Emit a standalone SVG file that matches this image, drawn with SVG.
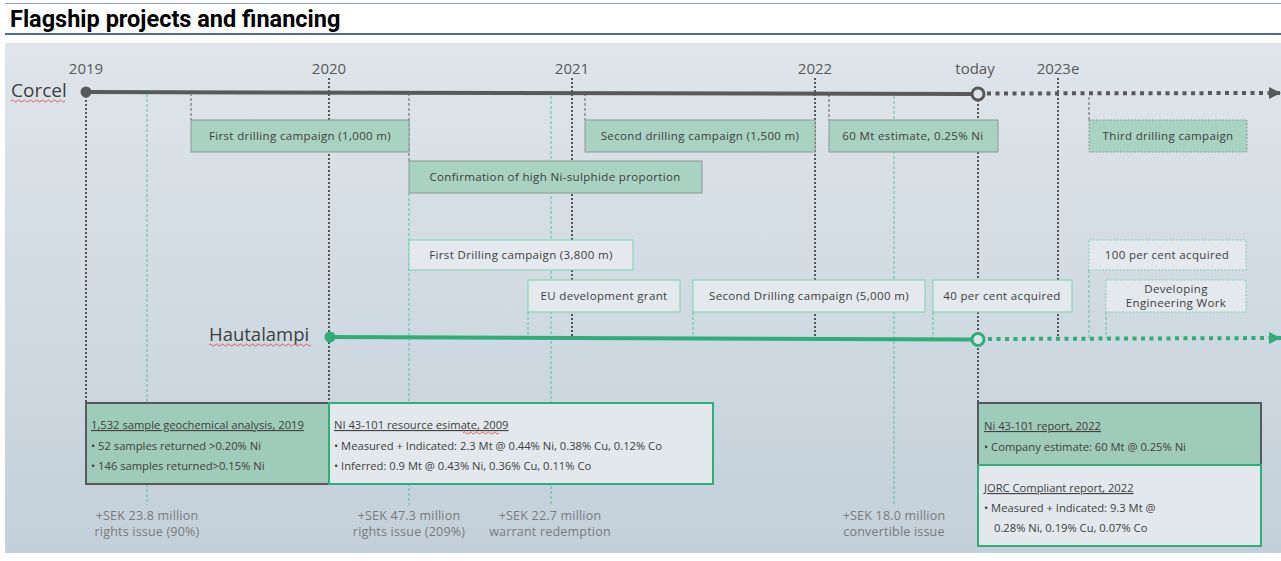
<svg xmlns="http://www.w3.org/2000/svg" width="1281" height="561" viewBox="0 0 1281 561">
<defs>
<linearGradient id="bg" x1="0" y1="0" x2="0" y2="1">
<stop offset="0" stop-color="#dfe5ea"/>
<stop offset="1" stop-color="#c3d0da"/>
</linearGradient>
<marker id="arrG" viewBox="0 0 10 10" refX="10" refY="5" markerWidth="3" markerHeight="3" orient="auto" markerUnits="strokeWidth"><path d="M0,0 L10,5 L0,10 z" fill="#595959"/></marker>
<marker id="arrGr" viewBox="0 0 10 10" refX="10" refY="5" markerWidth="3" markerHeight="3" orient="auto" markerUnits="strokeWidth"><path d="M0,0 L10,5 L0,10 z" fill="#2fae78"/></marker>
<style>
.t{font-family:"Open Sans","Liberation Sans",sans-serif;fill:#404040}
.yr{font-size:15px;fill:#595959;text-anchor:middle}
.bx{font-size:11.5px;letter-spacing:0.35px;text-anchor:middle}
.sm{font-size:11.2px}
.fin{font-size:12.5px;fill:#7a7a7a;text-anchor:middle;letter-spacing:0.2px}
.cg{fill:#a8d2c2;stroke:#8a9a94;stroke-width:1}
.hl{fill:#e4e9ee;stroke:#7fd1ac;stroke-width:1}
.dsh{stroke-dasharray:2,1.5}
.vk{stroke:#333;stroke-width:1.6;stroke-dasharray:2,2;fill:none}
.vt{stroke:#555;stroke-width:0.9;stroke-dasharray:3,2;fill:none}
.vg{stroke:#4cc08e;stroke-width:0.9;stroke-dasharray:3,2;fill:none}
.sq{stroke:#e05050;stroke-width:0.9;fill:none}
</style>
</defs>
<rect x="0" y="0" width="1281" height="561" fill="#ffffff"/>
<line x1="5" y1="3.5" x2="1281" y2="3.5" stroke="#8f9ccc" stroke-width="1"/>
<text x="10" y="27" style="font-family:Roboto,'Liberation Sans',sans-serif;font-weight:bold;font-size:23.5px;fill:#000">Flagship projects and financing</text>
<line x1="5" y1="34" x2="1281" y2="34" stroke="#4a68b0" stroke-width="2"/>
<rect x="5" y="43" width="1276" height="510" fill="url(#bg)"/>

<g id="years">
<text class="t yr" x="86" y="74">2019</text>
<text class="t yr" x="329" y="74">2020</text>
<text class="t yr" x="572" y="74">2021</text>
<text class="t yr" x="815" y="74">2022</text>
<text class="t yr" x="975" y="74">today</text>
<text class="t yr" x="1058" y="74">2023e</text>
</g>

<g id="connectors">
<line class="vk" x1="86" y1="96" x2="86" y2="403"/>
<line class="vk" x1="329" y1="78" x2="329" y2="403"/>
<line class="vk" x1="572" y1="78" x2="572" y2="337"/>
<line class="vk" x1="815" y1="78" x2="815" y2="338"/>
<line class="vk" x1="1058" y1="78" x2="1058" y2="338"/>
<line class="vk" x1="978" y1="100" x2="978" y2="403"/>
<line class="vt" x1="191" y1="93" x2="191" y2="120"/>
<line class="vt" x1="409" y1="93" x2="409" y2="161"/>
<line class="vt" x1="585" y1="93" x2="585" y2="120"/>
<line class="vt" x1="829" y1="94" x2="829" y2="120"/>
<line class="vt" x1="1089" y1="97" x2="1089" y2="120"/>
<line class="vg" x1="147" y1="94" x2="147" y2="505"/>
<line class="vg" x1="409" y1="193" x2="409" y2="505"/>
<line class="vg" x1="551" y1="96" x2="551" y2="505"/>
<line class="vg" x1="894" y1="96" x2="894" y2="505"/>
<line class="vg" x1="528" y1="312" x2="528" y2="337"/>
<line class="vg" x1="693" y1="312" x2="693" y2="338"/>
<line class="vg" x1="933" y1="312" x2="933" y2="339"/>
<line class="vg" x1="1089" y1="270" x2="1089" y2="338"/>
<line class="vg" x1="1106" y1="312" x2="1106" y2="338"/>
</g>

<g id="corcel-line">
<line x1="86" y1="92" x2="972" y2="94" stroke="#595959" stroke-width="4"/>
<circle cx="86" cy="92" r="5.5" fill="#595959"/>
<line x1="987" y1="93.5" x2="1281" y2="93" stroke="#595959" stroke-width="4" stroke-dasharray="4,4.5" marker-end="url(#arrG)"/>
<circle cx="978" cy="94" r="6" fill="#dde3e8" stroke="#595959" stroke-width="3"/>
<text class="t" x="11" y="97" style="font-size:19px;fill:#404040">Corcel</text>
<path class="sq" d="M11,101 q1.5,-2 3,0 t3,0 t3,0 t3,0 t3,0 t3,0 t3,0 t3,0 t3,0 t3,0 t3,0 t3,0 t3,0 t3,0 t3,0 t3,0 t3,0 t3,0"/>
</g>

<g id="hautalampi-line">
<line x1="330" y1="337" x2="972" y2="339.5" stroke="#2fae78" stroke-width="4"/>
<circle cx="330" cy="337" r="5.5" fill="#2fae78"/>
<line x1="988" y1="339" x2="1281" y2="338" stroke="#2fae78" stroke-width="4" stroke-dasharray="4,4.5" marker-end="url(#arrGr)"/>
<circle cx="978" cy="339.5" r="6" fill="#dde3e8" stroke="#2fae78" stroke-width="3"/>
<text class="t" x="209" y="341" style="font-size:18.5px;fill:#404040">Hautalampi</text>
<path class="sq" d="M209,345 q1.5,-2 3,0 t3,0 t3,0 t3,0 t3,0 t3,0 t3,0 t3,0 t3,0 t3,0 t3,0 t3,0 t3,0 t3,0 t3,0 t3,0 t3,0 t3,0 t3,0 t3,0 t3,0 t3,0 t3,0 t3,0 t3,0 t3,0 t3,0 t3,0 t3,0 t3,0 t3,0 t3,0 t3,0 t3,0"/>
</g>

<g id="c-first-drilling"><rect class="cg" x="191" y="120" width="218" height="32"/><text class="t bx" x="300" y="140">First drilling campaign (1,000 m)</text></g>
<g id="c-confirmation"><rect class="cg" x="409" y="161" width="293" height="32"/><text class="t bx" x="555" y="181">Confirmation of high Ni-sulphide proportion</text></g>
<g id="c-second-drilling"><rect class="cg" x="585" y="120" width="230" height="32"/><text class="t bx" x="700" y="140">Second drilling campaign (1,500 m)</text></g>
<g id="c-60mt"><rect class="cg" x="829" y="120" width="169" height="32"/><text class="t bx" x="913" y="140">60 Mt estimate, 0.25% Ni</text></g>
<g id="c-third-drilling"><rect class="cg dsh" x="1089" y="120" width="158" height="32"/><text class="t bx" x="1168" y="140">Third drilling campaign</text></g>

<g id="h-first-drilling"><rect class="hl" x="409" y="240" width="224" height="30"/><text class="t bx" x="521" y="259">First Drilling campaign (3,800 m)</text></g>
<g id="h-eu-grant"><rect class="hl" x="528" y="280" width="152" height="32"/><text class="t bx" x="604" y="300">EU development grant</text></g>
<g id="h-second-drilling"><rect class="hl" x="693" y="280" width="232" height="32"/><text class="t bx" x="809" y="300">Second Drilling campaign (5,000 m)</text></g>
<g id="h-40pc"><rect class="hl" x="933" y="280" width="139" height="32"/><text class="t bx" x="1002" y="300">40 per cent acquired</text></g>
<g id="h-100pc"><rect class="hl dsh" x="1089" y="240" width="157" height="30"/><text class="t bx" x="1167" y="259">100 per cent acquired</text></g>
<g id="h-engineering"><rect class="hl dsh" x="1106" y="280" width="140" height="32"/><text class="t bx" x="1176" y="293">Developing</text><text class="t bx" x="1176" y="307">Engineering Work</text></g>

<g id="box-geochem">
<rect x="86" y="403" width="243" height="81" fill="#9fcbba" stroke="#595959" stroke-width="2"/>
<text class="t sm" x="91" y="429" text-decoration="underline">1,532 sample geochemical analysis, 2019</text>
<text class="t sm" x="91" y="450">•  52 samples returned &gt;0.20% Ni</text>
<text class="t sm" x="91" y="470">•  146 samples returned&gt;0.15% Ni</text>
</g>
<g id="box-ni43101-2009">
<rect x="329" y="403" width="384" height="81" fill="#e3e8ec" stroke="#2fae78" stroke-width="2"/>
<text class="t sm" x="334" y="429" text-decoration="underline">NI 43-101 resource esimate, 2009</text>
<path class="sq" d="M463,433 q1.5,-2 3,0 t3,0 t3,0 t3,0 t3,0 t3,0 t3,0 t3,0 t3,0 t3,0 t3,0 t3,0"/>
<text class="t sm" x="334" y="450">•  Measured + Indicated: 2.3 Mt @ 0.44% Ni, 0.38% Cu, 0.12% Co</text>
<text class="t sm" x="334" y="470">•  Inferred: 0.9 Mt @ 0.43% Ni, 0.36% Cu, 0.11% Co</text>
</g>
<g id="box-ni43101-2022">
<rect x="978" y="403" width="283" height="62" fill="#9fcbba" stroke="#595959" stroke-width="2"/>
<text class="t sm" x="984" y="430" text-decoration="underline">Ni 43-101 report, 2022</text>
<text class="t sm" x="984" y="451">•  Company estimate: 60 Mt @ 0.25% Ni</text>
</g>
<g id="box-jorc">
<rect x="978" y="465" width="283" height="81" fill="#e3e8ec" stroke="#2fae78" stroke-width="2"/>
<text class="t sm" x="984" y="492" text-decoration="underline">JORC Compliant report, 2022</text>
<text class="t sm" x="984" y="512">•  Measured + Indicated: 9.3 Mt @</text>
<text class="t sm" x="994" y="532">0.28% Ni, 0.19% Cu, 0.07% Co</text>
</g>

<g id="financing">
<text class="t fin" x="147" y="520">+SEK 23.8 million</text><text class="t fin" x="147" y="536">rights issue (90%)</text>
<text class="t fin" x="409" y="520">+SEK 47.3 million</text><text class="t fin" x="409" y="536">rights issue (209%)</text>
<text class="t fin" x="550" y="520">+SEK 22.7 million</text><text class="t fin" x="550" y="536">warrant redemption</text>
<text class="t fin" x="894" y="520">+SEK 18.0 million</text><text class="t fin" x="894" y="536">convertible issue</text>
</g>
</svg>
